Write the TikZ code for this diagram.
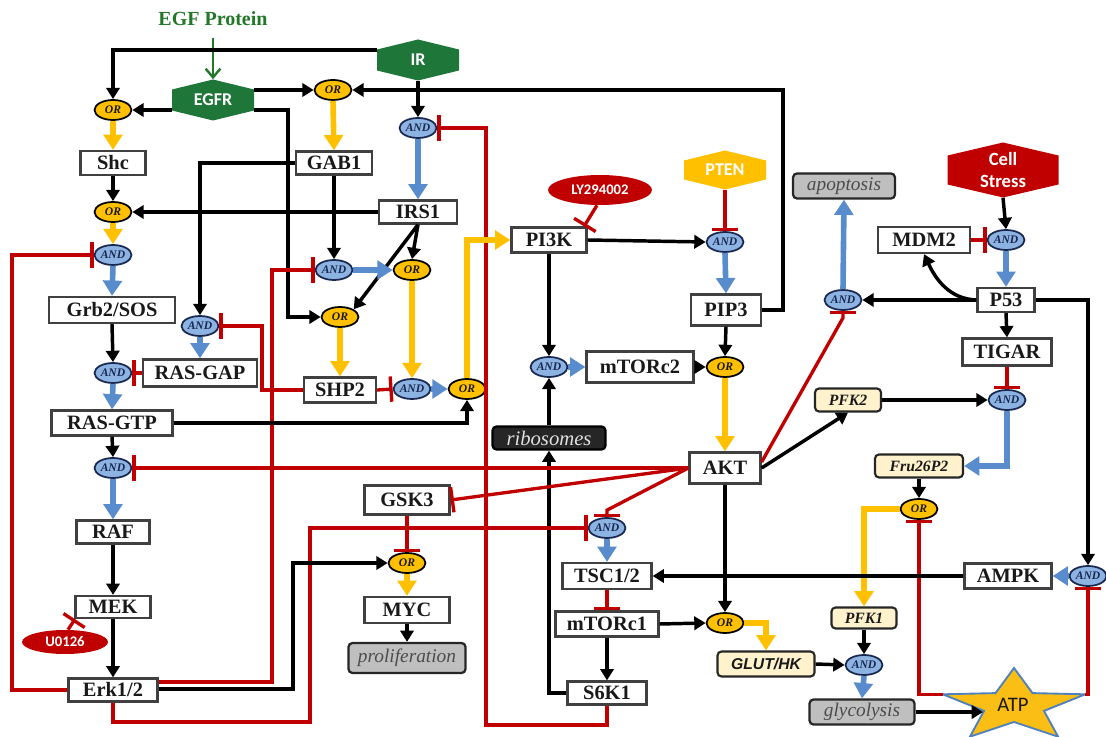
\documentclass[tikz,border=0pt]{standalone}
\usepackage{fontspec}
\setmainfont{Liberation Serif}
\newfontfamily\calib{Carlito}
\newfontfamily\arialf{Liberation Sans}
\usetikzlibrary{shapes.geometric,arrows.meta,calc}
\newlength{\PX}\setlength{\PX}{0.75pt}
\definecolor{egfgreen}{RGB}{34,120,40}
\definecolor{hexgreen}{RGB}{30,118,56}
\definecolor{hexyel}{RGB}{255,192,0}
\definecolor{hexred}{RGB}{192,0,0}
\definecolor{redA}{RGB}{192,0,0}
\definecolor{blueA}{RGB}{88,140,205}
\definecolor{yelA}{RGB}{255,192,0}
\definecolor{andfill}{RGB}{141,179,226}
\definecolor{navy}{RGB}{24,40,80}
\definecolor{orfill}{RGB}{255,192,0}
\definecolor{boxgray}{RGB}{64,64,64}
\definecolor{grayfill}{RGB}{191,191,191}
\definecolor{lightyel}{RGB}{255,242,204}
\definecolor{ribofill}{RGB}{38,38,38}
\definecolor{starfill}{RGB}{250,190,20}
\definecolor{starline}{RGB}{79,129,189}
\definecolor{txt}{RGB}{25,25,25}
\tikzset{
  box/.style={draw=boxgray, line width=1.7pt, fill=white, inner sep=0pt, text=txt,
    font=\fontsize{15.3}{17}\selectfont\bfseries},
  gbox/.style={draw=black!85, line width=1.7pt, fill=grayfill, rounded corners=3pt, inner sep=0pt,
    text=black!70, font=\fontsize{14.5}{16}\selectfont\itshape},
  rbox/.style={draw=black, line width=1.7pt, fill=ribofill, rounded corners=3pt, inner sep=0pt,
    text=white!88!black, font=\fontsize{15.5}{17}\selectfont\itshape},
  ybox/.style={draw=black!85, line width=1.6pt, fill=lightyel, rounded corners=3pt, inner sep=0pt,
    text=txt, font=\fontsize{11.8}{13}\selectfont\bfseries\itshape},
  andg/.style={ellipse, draw=navy, line width=1.3pt, fill=andfill, minimum width=37\PX, minimum height=20\PX,
    inner sep=0pt, text=navy, font=\fontsize{8.7}{9}\selectfont\bfseries\itshape},
  org/.style={ellipse, draw=black, line width=1.3pt, fill=orfill, minimum width=37\PX, minimum height=20\PX,
    inner sep=0pt, text=txt, font=\fontsize{8.7}{9}\selectfont\bfseries\itshape},
  hexa/.style 2 args={inner sep=0pt, text=white, align=center,
    font=\calib\bfseries\fontsize{13.5}{16.5}\selectfont,
    path picture={\fill[#1] (path picture bounding box.north)
      -- ([yshift=-#2\PX]path picture bounding box.north east)
      -- ([yshift=#2\PX]path picture bounding box.south east)
      -- (path picture bounding box.south)
      -- ([yshift=#2\PX]path picture bounding box.south west)
      -- ([yshift=-#2\PX]path picture bounding box.north west) -- cycle;}},
  drug/.style={ellipse, fill=hexred, inner sep=0pt, text=white, font=\calib\bfseries\fontsize{11}{13}\selectfont},
  act/.style={draw=black, line width=2.6pt, -{Triangle[width=10pt,length=8.5pt]}},
  bact/.style={draw=blueA, line width=4.2pt, -{Triangle[width=14pt,length=11.5pt]}},
  yact/.style={draw=yelA, line width=4.2pt, -{Triangle[width=14pt,length=11.5pt]}},
  inh/.style={draw=redA, line width=2.5pt, -{Bar[width=19pt]}},
  garr/.style={draw=egfgreen, line width=1.8pt, -{Straight Barb[width=11pt,length=6.5pt]}},
}
\begin{document}
\begin{tikzpicture}[x=0.75pt,y=-0.75pt]
\useasboundingbox (0,0) rectangle (1106,737);

% ---------- hexagons and labels
\node[font=\fontsize{15}{17}\selectfont\bfseries, text=egfgreen] (egf) at (213,19) {EGF Protein};
\node[hexa={hexgreen}{10}, minimum width=82\PX, minimum height=41\PX] (egfr) at (213,100) {EGFR};
\node[hexa={hexgreen}{10}, minimum width=82\PX, minimum height=41\PX] (ir) at (418,60) {IR};
\node[hexa={hexyel}{10}, minimum width=82\PX, minimum height=39\PX] (pten) at (725,170) {PTEN};
\node[hexa={hexred}{13}, minimum width=111\PX, minimum height=55\PX, font=\calib\bfseries\fontsize{14}{17}\selectfont] (cs) at (1003,170) {Cell\\Stress};
\node[drug, minimum width=104\PX, minimum height=30\PX] (ly) at (600,190) {LY294002};
\node[drug, minimum width=86\PX, minimum height=24\PX] (u0126) at (65,642) {U0126};

% ---------- boxes
\node[box, minimum width=65\PX, minimum height=24\PX] (shc) at (113,163) {Shc};
\node[box, minimum width=76\PX, minimum height=23\PX] (gab1) at (334,163) {GAB1};
\node[box, minimum width=78\PX, minimum height=23\PX] (irs1) at (418,212) {IRS1};
\node[box, minimum width=126\PX, minimum height=26\PX] (grb2) at (112,310) {Grb2/SOS};
\node[box, minimum width=114\PX, minimum height=27\PX] (rasgap) at (200,373) {RAS-GAP};
\node[box, minimum width=121\PX, minimum height=25\PX] (rasgtp) at (112,423) {RAS-GTP};
\node[box, minimum width=72\PX, minimum height=25\PX] (shp2) at (340,390) {SHP2};
\node[box, minimum width=75\PX, minimum height=25\PX] (pi3k) at (549,240) {PI3K};
\node[box, minimum width=70\PX, minimum height=31\PX] (pip3) at (726,310) {PIP3};
\node[box, minimum width=107\PX, minimum height=31\PX] (mtorc2) at (640,367) {mTORc2};
\node[box, minimum width=71\PX, minimum height=31\PX] (akt) at (725,468) {AKT};
\node[box, minimum width=73\PX, minimum height=23\PX] (raf) at (113,532) {RAF};
\node[box, minimum width=75\PX, minimum height=22\PX] (mek) at (113,607) {MEK};
\node[box, minimum width=89\PX, minimum height=23\PX] (erk) at (113,690) {Erk1/2};
\node[box, minimum width=85\PX, minimum height=29\PX] (gsk3) at (407,500) {GSK3};
\node[box, minimum width=85\PX, minimum height=26\PX] (myc) at (407,610) {MYC};
\node[box, minimum width=89\PX, minimum height=26\PX] (tsc) at (607,576) {TSC1/2};
\node[box, minimum width=103\PX, minimum height=25\PX] (mtorc1) at (607,624) {mTORc1};
\node[box, minimum width=79\PX, minimum height=23\PX] (s6k1) at (607,693) {S6K1};
\node[box, minimum width=92\PX, minimum height=26\PX] (mdm2) at (924,240) {MDM2};
\node[box, minimum width=57\PX, minimum height=24\PX] (p53) at (1006,300) {P53};
\node[box, minimum width=89\PX, minimum height=27\PX] (tigar) at (1007,352) {TIGAR};
\node[box, minimum width=87\PX, minimum height=25\PX] (ampk) at (1008,576) {AMPK};

\node[gbox, minimum width=102\PX, minimum height=25\PX] (apop) at (844,186) {apoptosis};
\node[gbox, minimum width=117\PX, minimum height=30\PX] (prolif) at (407,658) {proliferation};
\node[gbox, minimum width=105\PX, minimum height=25\PX] (glyco) at (862,712) {glycolysis};
\node[rbox, minimum width=113\PX, minimum height=23\PX] (ribo) at (549,438) {ribosomes};
\node[ybox, minimum width=66\PX, minimum height=23\PX] (pfk2) at (848,400) {PFK2};
\node[ybox, minimum width=88\PX, minimum height=23\PX] (fru) at (919,466) {Fru26P2};
\node[ybox, minimum width=65\PX, minimum height=21\PX] (pfk1) at (864,618) {PFK1};
\node[ybox, minimum width=97\PX, minimum height=25\PX, font=\arialf\bfseries\itshape\fontsize{11.8}{13}\selectfont] (glut) at (766,664) {GLUT/HK};

% ---------- gates
\node[org] (or1) at (113,110) {OR};
\node[org] (or2) at (333,90) {OR};
\node[andg] (andir) at (418,128) {AND};
\node[org] (or3) at (113,212) {OR};
\node[andg] (andgrb) at (113,255) {AND};
\node[andg] (andgab) at (334,270) {AND};
\node[org] (orirs) at (412,270) {OR};
\node[org] (orshp) at (340,317) {OR};
\node[andg] (andrg) at (200,326) {AND};
\node[andg] (andras) at (113,373) {AND};
\node[andg] (andshp) at (412,389) {AND};
\node[org] (orpi) at (467,389) {OR};
\node[andg] (andpip) at (725,242) {AND};
\node[andg] (andmt) at (549,367) {AND};
\node[org] (orakt) at (725,367) {OR};
\node[andg] (andraf) at (113,468) {AND};
\node[org] (ormyc) at (407,563) {OR};
\node[andg] (andtsc) at (607,528) {AND};
\node[org] (orglut) at (725,623) {OR};
\node[andg] (andp53) at (1006,240) {AND};
\node[andg] (andapop) at (843,300) {AND};
\node[andg] (andfru) at (1007,400) {AND};
\node[org] (orpfk) at (919,509) {OR};
\node[andg] (andgly) at (864,665) {AND};
\node[andg] (andampk) at (1088,576) {AND};

% ---------- ATP star
\filldraw[fill=starfill, draw=starline, line width=1.4pt]
  (1014,668) -- (995.5,693.1) -- (942.7,694.3) -- (984.0,710.9) -- (969.9,736.7)
  -- (1014,722) -- (1058.1,736.7) -- (1044.0,710.9) -- (1085.3,694.3) -- (1032.5,693.1) -- cycle;
\node[font=\calib\fontsize{15.5}{17}\selectfont, text=txt] (atp) at (1013,705) {ATP};
\coordinate (atpL) at (942.7,694.3);
\coordinate (atpR) at (1085.3,694.3);
\coordinate (atpin) at (983,712);

% ---------- connectors: receptors
\draw[garr, shorten <=7\PX] (egf.south) -- (egfr.north);
\draw[act] ([yshift=10\PX]ir.west) -| (or1.north);
\draw[act] ([yshift=-10\PX]egfr.west) -- (or1.east);
\draw[act] ([yshift=10\PX]egfr.east) -- (or2.west);
\draw[act] ([yshift=-10\PX]egfr.east) -| (288,317) -- (orshp.west);
\draw[act] (pip3.east) -| (783,90) -- (or2.east);
\draw[act] (ir.south) -- (andir.north);
\draw[yact] (or2.south) -- (gab1.north);
\draw[yact] (or1.south) -- (shc.north);
\draw[act] (shc.south) -- (or3.north);
\draw[act] (irs1.west) -- (or3.east);
\draw[bact] (andir.south) -- (irs1.north);
\draw[inh] (s6k1.south) |- (486,725) |- (andir.east);

% GAB1 / IRS1 / SHP2
\draw[act] (gab1.west) -| (andrg.north);
\draw[act] (gab1.south) -- (andgab.north);
\draw[act] (irs1.south) -- (orirs.north);
\draw[act] (irs1.south) -- (orshp.north east);
\draw[bact] (andgab.east) -- (orirs.west);
\draw[inh] ([yshift=8\PX]erk.east) -| (272,270) -- (andgab.west);
\draw[yact] (orshp.south) -- (shp2.north);
\draw[yact] (orirs.south) -- (andshp.north);
\draw[inh] (shp2.east) -- (andshp.west);
\draw[inh] (shp2.west) -| (262,326) -- (andrg.east);
\draw[bact] (andrg.south) -- (rasgap.north);
\draw[bact] (andshp.east) -- (orpi.west);
\draw[yact] (orpi.north) |- (pi3k.west);
\draw[act] (rasgtp.east) -| (orpi.south);

% PI3K / AKT
\draw[inh] ([xshift=-3\PX]ly.south) -- ([xshift=35\PX]pi3k.north);
\draw[inh] (pten.south) -- (andpip.north);
\draw[act] (pi3k.east) -- (andpip.west);
\draw[bact] (andpip.south) -- (pip3.north);
\draw[act] (pip3.south) -- (orakt.north);
\draw[act] (pi3k.south) -- (andmt.north);
\draw[bact] (andmt.east) -- (mtorc2.west);
\draw[act] (mtorc2.east) -- (orakt.west);
\draw[yact] (orakt.south) -- (akt.north);
\draw[act] (ribo.north) -- (andmt.south);
\draw[act] (s6k1.west) -| (ribo.south);
\draw[inh] (akt.west) -- (andraf.east);
\draw[inh] (akt.west) -- (gsk3.east);
\draw[inh] (akt.west) -- ($(andtsc.north)+(0,-7)$) -- (andtsc.north);
\draw[inh] ([yshift=6\PX]akt.east) -- ($(andapop.south)+(0,7)$) -- (andapop.south);
\draw[act] (akt.east) -- (pfk2.south);
\draw[act] (akt.south) -- (orglut.north);

% MYC
\draw[inh] (gsk3.south) -- (ormyc.north);
\draw[inh] (erk.south) |- (310,722) |- (andtsc.west);
\draw[act] ([yshift=1\PX]erk.east) -| (293,563) -- (ormyc.west);
\draw[inh] (erk.west) -| (12,255) -- (andgrb.west);
\draw[yact] (ormyc.south) -- (myc.north);
\draw[act] (myc.south) -- (prolif.north);

% left cascade
\draw[yact] (or3.south) -- (andgrb.north);
\draw[bact] (andgrb.south) -- (grb2.north);
\draw[act] (grb2.south) -- (andras.north);
\draw[inh] (rasgap.west) -- (andras.east);
\draw[bact] (andras.south) -- (rasgtp.north);
\draw[act] (rasgtp.south) -- (andraf.north);
\draw[bact] (andraf.south) -- (raf.north);
\draw[act] (raf.south) -- (mek.north);
\draw[act] (mek.south) -- (erk.north);
\draw[inh] ([xshift=3\PX]u0126.north) -- ([xshift=-38\PX]mek.south);

% P53 side
\draw[act] (cs.south) -- (andp53.north);
\draw[inh] (mdm2.east) -- (andp53.west);
\draw[bact] (andp53.south) -- (p53.north);
\draw[act] (p53.west) to[out=178,in=-65] (mdm2.south);
\draw[act] (p53.west) -- (andapop.east);
\draw[bact] (andapop.north) -- (apop.south);
\draw[act] (p53.south) -- (tigar.north);
\draw[act] (p53.east) -| (andampk.north);
\draw[inh] (tigar.south) -- (andfru.north);
\draw[act] (pfk2.east) -- (andfru.west);
\draw[bact] (andfru.south) |- (fru.east);
\draw[act] (fru.south) -- (orpfk.north);
\draw[yact] (orpfk.west) -| (pfk1.north);
\draw[act] (pfk1.south) -- (andgly.north);
\draw[act] (glut.east) -- (andgly.west);
\draw[bact] (andgly.south) -- (glyco.north);
\draw[act] (glyco.east) -- (atpin);
\draw[inh] (atpL) -| (orpfk.south);
\draw[inh] (atpR) -| (andampk.south);
\draw[bact] (andampk.west) -- (ampk.east);
\draw[act] (ampk.west) -- (tsc.east);
\draw[bact] (andtsc.south) -- (tsc.north);
\draw[inh] (tsc.south) -- (mtorc1.north);
\draw[act] (mtorc1.south) -- (s6k1.north);
\draw[act] (mtorc1.east) -- (orglut.west);
\draw[yact] (orglut.east) -| (glut.north);
\end{tikzpicture}
\end{document}
